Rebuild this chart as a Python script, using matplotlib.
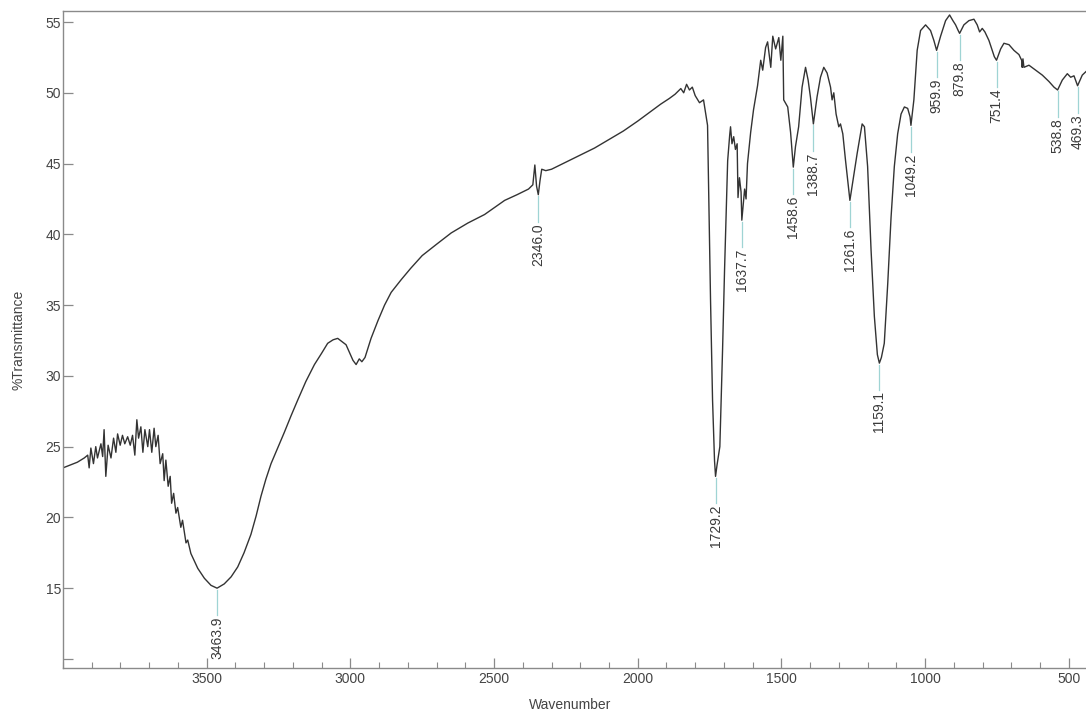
import numpy as np
import matplotlib
matplotlib.use("Agg")
import matplotlib.pyplot as plt
from matplotlib.ticker import MultipleLocator, FixedLocator, FuncFormatter

plt.rcParams["font.family"] = ["Liberation Sans", "DejaVu Sans"]

# FTIR spectrum (wavenumber in cm-1, %T)
wavenumber = [
    4000, 3975, 3950, 3938, 3926, 3914, 3909, 3903, 3894, 3886, 3880, 3868,
    3862, 3857, 3851, 3843, 3833, 3824, 3816, 3810, 3801, 3793, 3785, 3775,
    3766, 3758, 3750, 3743, 3737, 3729, 3722, 3715, 3705, 3699, 3691, 3683,
    3677, 3669, 3662, 3653, 3648, 3642, 3634, 3627, 3622, 3615, 3607, 3601,
    3590, 3584, 3572, 3566, 3555, 3531, 3508, 3485, 3463.9, 3439, 3415, 3392,
    3370, 3346, 3328, 3311, 3294, 3276, 3253, 3230, 3206, 3183, 3155, 3125,
    3100, 3079, 3060, 3044, 3015, 2991, 2980, 2969, 2960,
    2949, 2928, 2904, 2881, 2858, 2823, 2790, 2750, 2700, 2649, 2591, 2533,
    2463, 2420, 2380, 2365, 2358, 2352, 2346.0, 2340, 2334, 2320, 2300, 2250,
    2200, 2150, 2100, 2050, 2000, 1960, 1920, 1890, 1870, 1850, 1840, 1830,
    1820, 1810, 1800, 1785, 1771, 1764, 1757, 1752.5, 1746.6, 1739.6, 1732.7,
    1729.2, 1724, 1714.2, 1704.8, 1697.8, 1690.9, 1687, 1680, 1677, 1672,
    1666, 1660, 1654, 1651, 1646, 1640.4, 1637.7, 1628, 1623, 1618, 1607,
    1597, 1583, 1572, 1565, 1555, 1548, 1537, 1530, 1520, 1509, 1502, 1495,
    1492, 1478, 1468, 1463, 1458.6, 1451, 1440, 1428, 1416, 1407, 1399,
    1388.7, 1376, 1364, 1352.5, 1341, 1329, 1323.6, 1317.7, 1309.7, 1300.3,
    1294.4, 1286.3, 1277, 1261.6, 1254, 1236.5, 1219, 1211, 1200, 1188,
    1176.5, 1166, 1159.1, 1152, 1142, 1130, 1118.4, 1107, 1095.4, 1083.6,
    1072, 1060.6, 1052.2, 1049.2, 1039, 1027.5, 1015.7, 998.3, 981, 969.4,
    959.9, 946, 928.6, 914.7, 903.2, 893.8, 884.8, 879.8, 865, 847.5, 830,
    818.6, 810.2, 801, 791.8, 777.8, 766.3, 759, 751.4, 737, 725.6, 708,
    690.8, 673.3, 664, 662, 659.4, 656, 638.5, 615, 592, 569, 551.4, 538.8,
    522.5, 505, 493.3, 481.8, 469.3, 453, 440,
]
transmittance = [
    23.5, 23.7, 23.9, 24.05, 24.2, 24.4, 23.5, 24.9, 23.8, 25.0, 24.2, 25.2,
    24.3, 26.2, 22.9, 25.1, 24.2, 25.6, 24.6, 25.9, 25.1, 25.8, 25.2, 25.7,
    25.1, 25.8, 24.4, 26.9, 25.6, 26.4, 24.6, 26.2, 25.0, 26.2, 24.6, 26.3,
    25.0, 25.8, 23.8, 24.5, 22.6, 24.05, 22.2, 22.9, 21.0, 21.7, 20.3, 20.7,
    19.3, 19.8, 18.2, 18.4, 17.45, 16.4, 15.7, 15.2, 15.0, 15.3, 15.8, 16.5,
    17.5, 18.8, 20.1, 21.5, 22.7, 23.8, 24.9, 26.0, 27.2, 28.3, 29.6, 30.8,
    31.6, 32.3, 32.55, 32.65, 32.2, 31.1, 30.8, 31.2, 31.0,
    31.3, 32.65, 33.9, 35.0, 35.9, 36.8, 37.6, 38.5, 39.3, 40.1, 40.8, 41.4,
    42.4, 42.8, 43.2, 43.5, 44.9, 43.4, 42.8, 43.8, 44.6, 44.5, 44.6, 45.1,
    45.6, 46.1, 46.7, 47.3, 48.0, 48.6, 49.2, 49.6, 49.9, 50.3, 50.0, 50.6,
    50.2, 50.4, 49.8, 49.3, 49.5, 48.6, 47.7, 42.4, 35.35, 28.3, 24.0,
    22.9, 23.7, 25.0, 31.8, 37.5, 42.4, 45.2, 47.0, 47.6, 46.4,
    46.9, 46.0, 46.4, 42.6, 44.0, 43.0, 41.0, 43.2, 42.5, 45.0, 47.2,
    48.8, 50.5, 52.3, 51.6, 53.2, 53.6, 51.8, 54.0, 53.1, 53.9, 52.3, 54.0,
    49.5, 49.0, 47.2, 45.9, 44.75, 46.2, 47.6, 50.4, 51.8, 50.9, 49.7,
    47.8, 49.7, 51.1, 51.8, 51.4, 50.4, 49.5, 50.0, 48.5, 47.6,
    47.8, 47.1, 45.25, 42.4, 43.4, 45.7, 47.8, 47.6, 44.8, 38.9,
    34.2, 31.5, 30.9, 31.3, 32.3, 36.5, 41.2, 44.8, 47.1, 48.5,
    49.0, 48.9, 48.3, 47.7, 49.5, 53.0, 54.4, 54.8, 54.4, 53.7,
    53.0, 54.0, 55.1, 55.5, 55.1, 54.8, 54.4, 54.2, 54.8, 55.1, 55.2,
    54.8, 54.3, 54.55, 54.3, 53.7, 53.0, 52.55, 52.3, 53.1, 53.5, 53.4,
    53.0, 52.7, 52.3, 51.8, 52.4, 51.8, 51.95, 51.6, 51.25, 50.8, 50.4, 50.2,
    50.9, 51.35, 51.1, 51.2, 50.5, 51.25, 51.5,
]

# picked peaks
peaks = [3463.9, 2346.0, 1729.2, 1637.7, 1458.6, 1388.7, 1261.6, 1159.1,
         1049.2, 959.9, 879.8, 751.4, 538.8, 469.3]

wn = np.array(wavenumber)
tr = np.array(transmittance)

fig = plt.figure(figsize=(10.86, 7.13), dpi=100)
ax = fig.add_axes([63 / 1086, 45 / 713, 1023 / 1086, 657 / 713])

ax.plot(wn, tr, color="#333333", lw=1.0)

order = np.argsort(wn)
for p in peaks:
    t = np.interp(p, wn[order], tr[order])
    ax.plot([p, p], [t - 0.1, t - 1.9], color="#9fd4d4", lw=0.9)
    ax.text(p, t - 2.0, f"{p:.1f}", rotation=90, ha="center", va="top",
            fontsize=10, color="#3a3a3a")

ax.set_xlim(4000, 440)
ax.set_ylim(9.36, 55.78)

ax.xaxis.set_major_locator(FixedLocator([3500, 3000, 2500, 2000, 1500, 1000, 500]))
ax.xaxis.set_minor_locator(MultipleLocator(100))
ax.yaxis.set_major_locator(FixedLocator([10, 15, 20, 25, 30, 35, 40, 45, 50, 55]))
ax.yaxis.set_major_formatter(FuncFormatter(lambda v, _: "" if v < 12 else f"{v:.0f}"))

ax.tick_params(axis="both", which="major", direction="in", length=7, width=0.9,
               color="#8a8a8a", labelsize=10, labelcolor="#444444")
ax.tick_params(axis="x", which="minor", direction="in", length=4, width=0.8,
               color="#8a8a8a")
ax.tick_params(axis="x", which="major", pad=3)
ax.tick_params(axis="y", which="major", pad=1.5)

for side in ("left", "bottom", "top"):
    ax.spines[side].set_color("#8a8a8a")
    ax.spines[side].set_linewidth(1.0)
ax.spines["right"].set_visible(False)

fig.text(570 / 1086, 1 - 705 / 713, "Wavenumber", ha="center", va="center",
         fontsize=10, color="#444444")
fig.text(19 / 1086, 1 - 340 / 713, "%Transmittance", ha="center", va="center",
         rotation=90, fontsize=10, color="#444444")

fig.savefig("out.png", dpi=100)
